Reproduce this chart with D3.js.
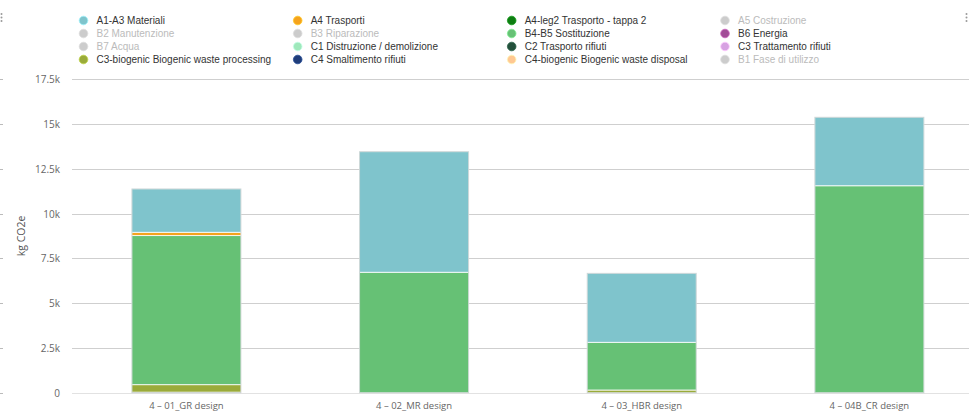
<!DOCTYPE html>
<html><head><meta charset="utf-8">
<script src="https://cdn.jsdelivr.net/npm/d3@7/dist/d3.min.js"></script>
<style>body{margin:0;background:#fff;}svg{display:block;}</style>
</head><body><svg id="c" width="969" height="413"></svg>
<script>
const categories = ["4 – 01_GR design","4 – 02_MR design","4 – 03_HBR design","4 – 04B_CR design"];
const seriesNames = ["A1-A3 Materiali","A4 Trasporti","A4-leg2 Trasporto - tappa 2","A5 Costruzione",
  "B2 Manutenzione","B3 Riparazione","B4-B5 Sostituzione","B6 Energia",
  "B7 Acqua","C1 Distruzione / demolizione","C2 Trasporto rifiuti","C3 Trattamento rifiuti",
  "C3-biogenic Biogenic waste processing","C4 Smaltimento rifiuti","C4-biogenic Biogenic waste disposal","B1 Fase di utilizzo"];
const seriesColors = ["#7fc4cc","#f5a31d","#0e7d12","#cccccc",
  "#cccccc","#cccccc","#66c175","#a24d97",
  "#cccccc","#9fe8bb","#23503b","#d7a2e2",
  "#9aab3a","#1f3d7a","#ffc892","#cccccc"];
const seriesVisible = [true,true,true,false,false,false,true,true,false,true,true,true,true,true,true,false];
// values in kg CO2e, per category
const A1A3 = [2420, 6730, 3850, 3820];
const A4 = [180, 0, 0, 0];
const A4leg2 = [0, 0, 0, 0];
const A5 = [0, 0, 0, 0];
const B2 = [0, 0, 0, 0];
const B3 = [0, 0, 0, 0];
const B4B5 = [8320, 6720, 2660, 11550];
const B6 = [0, 0, 0, 0];
const B7 = [0, 0, 0, 0];
const C1 = [0, 0, 0, 0];
const C2 = [0, 0, 0, 0];
const C3 = [0, 0, 0, 0];
const C3bio = [420, 0, 150, 0];
const C4 = [30, 0, 0, 0];
const C4bio = [0, 0, 0, 0];
const B1 = [0, 0, 0, 0];
const seriesValues = [A1A3,A4,A4leg2,A5,B2,B3,B4B5,B6,B7,C1,C2,C3,C3bio,C4,C4bio,B1];
const yTicks = [0,2500,5000,7500,10000,12500,15000,17500];
const yTickLabels = ["0","2.5k","5k","7.5k","10k","12.5k","15k","17.5k"];
const yTitle = "kg CO2e";

const svg = d3.select("#c");
const y = d3.scaleLinear().domain([0,17500]).range([392.7,79.1]);
const x = d3.scaleBand().domain(categories).range([72.7,983.1]).paddingInner(0.521).paddingOuter(0.26);

// menu icons (three dots)
[1.5, 966.5].forEach(cx=>{
  [14,17.5,21].forEach(cy=>{
    svg.append("circle").attr("cx",cx).attr("cy",cy).attr("r",1).attr("fill","#999");
  });
});

// gridlines
svg.append("g").selectAll("line").data(yTicks).join("line")
  .attr("x1",72).attr("x2",969).attr("y1",d=>Math.round(y(d))+0.5).attr("y2",d=>Math.round(y(d))+0.5)
  .attr("stroke",d=>d===0?"#e2e2e2":"#cfcfcf").attr("stroke-width",1);
// left edge dashes
svg.append("g").selectAll("line").data(yTicks).join("line")
  .attr("x1",0).attr("x2",3).attr("y1",d=>Math.round(y(d))+0.5).attr("y2",d=>Math.round(y(d))+0.5)
  .attr("stroke","#bbb").attr("stroke-width",1);
// tick labels
svg.append("g").selectAll("text").data(yTicks).join("text")
  .attr("x",60).attr("y",d=>y(d)+4).attr("text-anchor","end")
  .attr("font-family","Open Sans, sans-serif").attr("font-size",10).attr("fill","#666")
  .text((d,i)=>yTickLabels[i]);
// y title
svg.append("text").attr("transform","translate(25,236) rotate(-90)").attr("text-anchor","middle")
  .attr("font-family","Open Sans, sans-serif").attr("font-size",10.5).attr("fill","#555").text(yTitle);

// stacked bars (first series on top)
const order = d3.range(seriesNames.length).filter(i=>seriesVisible[i]).reverse();
const gBars = svg.append("g");
categories.forEach((cat,ci)=>{
  let cum = 0;
  order.forEach(si=>{
    const v = seriesValues[si][ci];
    if(v<=0) return;
    const y0 = y(cum), y1 = y(cum+v);
    gBars.append("rect").attr("x",x(cat)).attr("width",x.bandwidth())
      .attr("y",y1).attr("height",Math.max(0.5,y0-y1))
      .attr("fill",seriesColors[si]).attr("stroke","#ffffff").attr("stroke-width",1).attr("stroke-opacity",0.8);
    cum += v;
  });
  const total = cum;
  gBars.append("rect").attr("x",x(cat)).attr("width",x.bandwidth())
    .attr("y",y(total)).attr("height",y(0)-y(total)).attr("fill","none")
    .attr("stroke","#8a9a9a").attr("stroke-opacity",0.35).attr("stroke-width",1);
});

// x labels
svg.append("g").selectAll("text").data(categories).join("text")
  .attr("x",d=>x(d)+x.bandwidth()/2).attr("y",409).attr("text-anchor","middle")
  .attr("font-family","Open Sans, sans-serif").attr("font-size",9.5).attr("fill","#666").text(d=>d);

// legend
const colX = [83.5,297.7,511.7,725];
const rowY = [20.5,33.5,46.5,59.5];
const lg = svg.append("g");
seriesNames.forEach((n,i)=>{
  const cx = colX[i%4], cy = rowY[Math.floor(i/4)];
  lg.append("circle").attr("cx",cx).attr("cy",cy).attr("r",4.3)
    .attr("fill",seriesColors[i]).attr("stroke",seriesVisible[i]?d3.color(seriesColors[i]).brighter(0.6):"#ddd").attr("stroke-width",0.8);
  lg.append("text").attr("x",cx+13).attr("y",cy+3.6)
    .attr("font-family","Liberation Sans, Arial, sans-serif").attr("font-size",10)
    .attr("fill",seriesVisible[i]?"#333":"#bbb").text(n);
});
</script></body></html>
